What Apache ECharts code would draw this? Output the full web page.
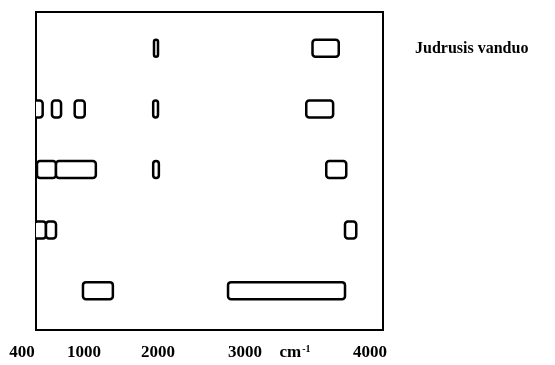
<!DOCTYPE html>
<html>
<head>
<meta charset="utf-8">
<script src="https://cdn.jsdelivr.net/npm/echarts@6/dist/echarts.min.js"></script>
<style>
html,body{margin:0;padding:0;background:#fff;}
#chart{width:555px;height:365px;}
</style>
</head>
<body>
<div id="chart"></div>
<script>
// Tick labels of the (non-uniform) wavenumber axis, cm^-1
var tickValues = [400, 1000, 2000, 3000, 4000];
// Unit label position on the axis (wavenumber)
var unitValue = 3400;
// Band rows: 5 = top row, 1 = bottom row
var bandRow   = [5, 5,   4, 4, 4, 4, 4,   3, 3, 3, 3,   2, 2, 2,   1, 1];
var bandStart = [1946, 3540,   500, 690, 910, 1935, 3490,   545, 729, 1935, 3650,   520, 632, 3800,   990, 2805];
var bandEnd   = [2000, 3750,   600, 778, 1010, 2000, 3705,   729, 1160, 2010, 3810,   632, 729, 3890,   1390, 3800];
var legendText = 'Judrusis vanduo';

// The printed axis is not linear: piecewise scale knots (wavenumber -> axis position)
var scaleKnotsW = [400, 1000, 2000, 3000, 4000];
var scaleKnotsP = [22, 84, 158, 245, 370];
function warp(w) {
  var n = scaleKnotsW.length, i = 0;
  if (w <= scaleKnotsW[0]) i = 0;
  else if (w >= scaleKnotsW[n - 1]) i = n - 2;
  else { while (w > scaleKnotsW[i + 1]) i++; }
  var w0 = scaleKnotsW[i], w1 = scaleKnotsW[i + 1];
  var p0 = scaleKnotsP[i], p1 = scaleKnotsP[i + 1];
  return p0 + (w - w0) * (p1 - p0) / (w1 - w0);
}

var bandData = bandRow.map(function (r, i) {
  return [warp(bandStart[i]), warp(bandEnd[i]), r];
});

var labelPositions = tickValues.map(warp).concat([warp(unitValue)]);
var labelMap = {};
tickValues.forEach(function (t) { labelMap[warp(t).toFixed(3)] = String(t); });
labelMap[warp(unitValue).toFixed(3)] = 'cm{sup|-1}';

var chart = echarts.init(document.getElementById('chart'), null, {renderer: 'canvas'});
var serif = 'Liberation Serif, Times New Roman, serif';

var option = {
  animation: false,
  backgroundColor: '#fff',
  title: {
    text: legendText,
    left: 410,
    top: 36,
    textStyle: {fontFamily: serif, fontSize: 16, fontWeight: 'bold', color: '#000'}
  },
  grid: [
    {left: 36, top: 12, width: 347, height: 318, show: true, borderColor: '#000', borderWidth: 2, backgroundColor: 'transparent'},
    {left: 0, top: 12, width: 555, height: 318, show: false}
  ],
  xAxis: [
    {type: 'value', gridIndex: 0, min: 36, max: 383,
     axisLine: {show: false}, axisTick: {show: false}, axisLabel: {show: false}, splitLine: {show: false}},
    {type: 'value', gridIndex: 1, min: 0, max: 555,
     axisLine: {show: false}, axisTick: {show: false}, splitLine: {show: false},
     axisLabel: {
       show: true, customValues: labelPositions, margin: 14,
       fontFamily: serif, fontSize: 17, fontWeight: 'bold', color: '#000',
       formatter: function (v) { return labelMap[v.toFixed(3)] || ''; },
       rich: {sup: {fontFamily: serif, fontSize: 10, fontWeight: 'bold', color: '#000', verticalAlign: 'top', padding: [0, 0, 8, 1]}}
     }}
  ],
  yAxis: [
    {type: 'value', gridIndex: 0, min: 0.35, max: 5.6, show: false},
    {type: 'value', gridIndex: 1, min: 0.35, max: 5.6, show: false}
  ],
  series: [{
    type: 'custom',
    xAxisIndex: 0, yAxisIndex: 0,
    clip: true,
    data: bandData,
    renderItem: function (params, api) {
      var a = api.coord([api.value(0), api.value(2)]);
      var b = api.coord([api.value(1), api.value(2)]);
      var h = 17;
      return {
        type: 'rect',
        shape: {x: a[0], y: a[1] - h / 2, width: b[0] - a[0], height: h, r: 3},
        style: {fill: '#fff', stroke: '#000', lineWidth: 2.5}
      };
    }
  }]
};
chart.setOption(option);
</script>
</body>
</html>
